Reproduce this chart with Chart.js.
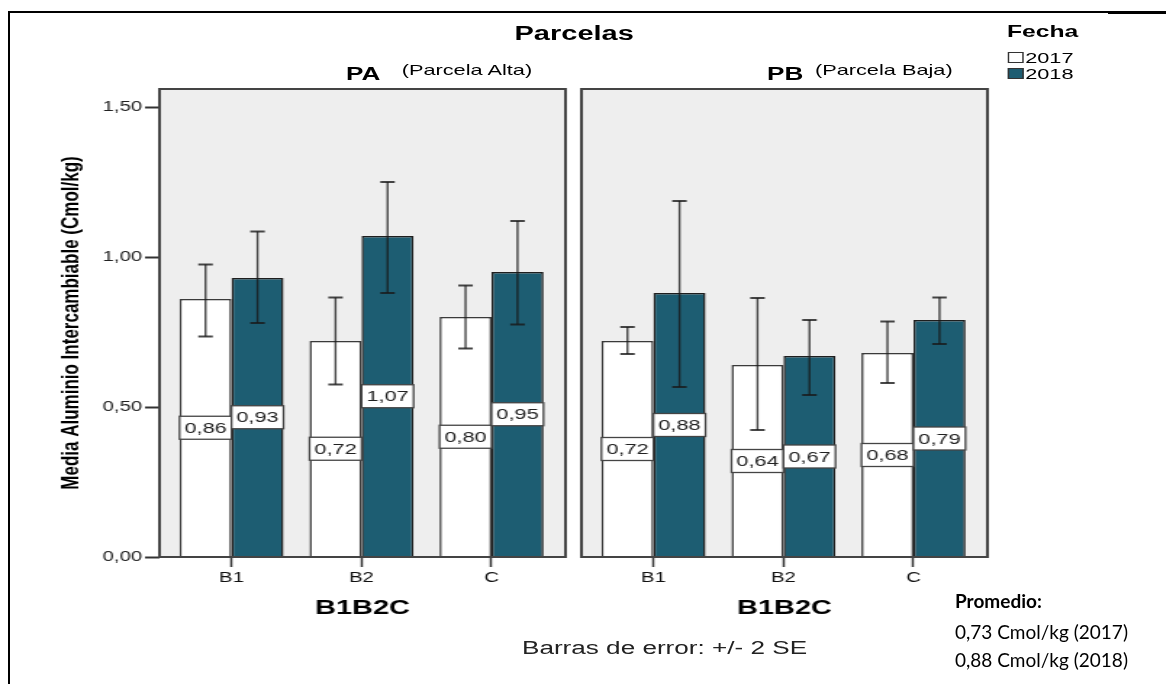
<!DOCTYPE html>
<html lang="es">
<head>
<meta charset="UTF-8">
<title>Media Aluminio Intercambiable</title>
<script src="https://cdn.jsdelivr.net/npm/chart.js"></script>
<style>
  body { margin:0; background:#fff; width:1166px; height:684px; overflow:hidden; position:relative; font-family:"Liberation Sans", Arial, sans-serif; }
  /* the SPSS output is stretched sideways in the original */
  #spss { position:absolute; left:0; top:0; width:800px; height:684px; transform:scaleX(1.45); transform-origin:0 0; }
  #spss canvas { position:absolute; top:0; }
  .t { position:absolute; white-space:nowrap; line-height:1; color:#000; }
  .box { position:absolute; width:11px; height:11px; border:1px solid #333; box-sizing:border-box; }
  .line { position:absolute; background:#000; }
  .note { position:absolute; left:955px; white-space:nowrap; line-height:1; font-family:Lato, "Open Sans", sans-serif; font-size:19px; color:#000; }
</style>
</head>
<body>
  <div class="line" style="left:8px; top:11px; width:2px; height:673px;"></div>
  <div class="line" style="left:8px; top:11px; width:1100px; height:2px;"></div>
  <div class="line" style="left:1108px; top:11px; width:58px; height:3px;"></div>

  <div id="spss">
    <canvas id="chartPA" width="396" height="684" style="left:0; width:396px; height:684px;"></canvas>
    <canvas id="chartPB" width="294" height="684" style="left:396px; width:294px; height:684px;"></canvas>

    <div class="t" style="left:296px; width:200px; text-align:center; top:23px; font-size:20px; font-weight:bold;">Parcelas</div>
    <div class="t" style="left:238.6px; top:65px; font-size:18px; font-weight:bold;">PA</div>
    <div class="t" style="left:277px; top:62px; font-size:15px;">(Parcela Alta)</div>
    <div class="t" style="left:529px; top:65px; font-size:18px; font-weight:bold;">PB</div>
    <div class="t" style="left:562px; top:62px; font-size:15px;">(Parcela Baja)</div>

    <div class="t" style="left:694.5px; top:22.5px; font-size:17px; font-weight:bold;">Fecha</div>
    <div class="box" style="left:695px; top:52px; background:#fff;"></div>
    <div class="t" style="left:707px; top:50px; font-size:15px;">2017</div>
    <div class="box" style="left:695px; top:67.5px; background:#1d5d72;"></div>
    <div class="t" style="left:707px; top:65.5px; font-size:15px;">2018</div>

    <div class="t" style="left:360px; top:639px; font-size:18px; color:#222;">Barras de error: +/- 2 SE</div>
  </div>

  <div class="note" style="top:591px; font-weight:bold;">Promedio:</div>
  <div class="note" style="top:622px;">0,73 Cmol/kg (2017)</div>
  <div class="note" style="top:650px;">0,88 Cmol/kg (2018)</div>

<script>
  const categories = ['B1', 'B2', 'C'];
  const yTicks = [0, 0.5, 1.0, 1.5];
  const yMax = 1.56;
  const xMin = -0.554;
  const xMax = 2.569;

  // PA (Parcela Alta)
  const paMean2017 = [0.86, 0.72, 0.80];
  const paMean2018 = [0.93, 1.07, 0.95];
  const paLow2017 = [0.735, 0.575, 0.695];
  const paHigh2017 = [0.975, 0.865, 0.905];
  const paLow2018 = [0.78, 0.88, 0.775];
  const paHigh2018 = [1.085, 1.25, 1.12];

  // PB (Parcela Baja)
  const pbMean2017 = [0.72, 0.64, 0.68];
  const pbMean2018 = [0.88, 0.67, 0.79];
  const pbLow2017 = [0.677, 0.423, 0.58];
  const pbHigh2017 = [0.767, 0.863, 0.785];
  const pbLow2018 = [0.567, 0.54, 0.71];
  const pbHigh2018 = [1.187, 0.79, 0.865];

  const fontFam = '"Liberation Sans", Arial, sans-serif';
  const teal = '#1d5d72';

  function comma(v) {
    return Number(v).toFixed(2).replace('.', ',');
  }

  // panel background, error bars, frame and value boxes
  const panelPlugin = {
    id: 'panel',
    beforeDraw(chart) {
      const a = chart.chartArea;
      const ctx = chart.ctx;
      ctx.save();
      ctx.fillStyle = '#eeeeee';
      ctx.fillRect(a.left, a.top, a.right - a.left, a.bottom - a.top);
      ctx.restore();
    },
    afterDatasetsDraw(chart) {
      const ctx = chart.ctx;
      const a = chart.chartArea;
      const y = chart.scales.y;
      ctx.save();

      chart.data.datasets.forEach((ds, i) => {
        const meta = chart.getDatasetMeta(i);
        meta.data.forEach((bar, j) => {
          const yHi = y.getPixelForValue(ds.errHigh[j]);
          const yLo = y.getPixelForValue(ds.errLow[j]);
          ctx.strokeStyle = 'rgba(25,25,25,0.8)';
          ctx.lineWidth = 1.4;
          ctx.beginPath();
          ctx.moveTo(bar.x, yHi);
          ctx.lineTo(bar.x, yLo);
          ctx.stroke();
          ctx.lineWidth = 2;
          ctx.beginPath();
          ctx.moveTo(bar.x - 5, yHi);
          ctx.lineTo(bar.x + 5, yHi);
          ctx.moveTo(bar.x - 5, yLo);
          ctx.lineTo(bar.x + 5, yLo);
          ctx.stroke();
        });
      });

      ctx.strokeStyle = '#444';
      ctx.lineWidth = 2;
      ctx.strokeRect(a.left, a.top, a.right - a.left, a.bottom - a.top);

      chart.data.datasets.forEach((ds, i) => {
        const meta = chart.getDatasetMeta(i);
        meta.data.forEach((bar, j) => {
          const w = bar.width;
          const cy = (bar.y + bar.base) / 2;
          ctx.fillStyle = '#fff';
          ctx.fillRect(bar.x - w / 2, cy - 11.5, w, 23);
          ctx.strokeStyle = '#444';
          ctx.lineWidth = 1.3;
          ctx.strokeRect(bar.x - w / 2, cy - 11.5, w, 23);
          ctx.fillStyle = '#222';
          ctx.font = '15px ' + fontFam;
          ctx.textAlign = 'center';
          ctx.textBaseline = 'middle';
          ctx.fillText(comma(ds.data[j].y), bar.x, cy + 1);
        });
      });
      ctx.restore();
    }
  };

  function panelChart(id, m17, m18, lo17, hi17, lo18, hi18, showY, padLeft, padRight) {
    const ctx = document.getElementById(id).getContext('2d');
    return new Chart(ctx, {
      type: 'bar',
      data: {
        datasets: [{
          label: '2017',
          data: m17.map((v, i) => ({ x: i, y: v })),
          errLow: lo17,
          errHigh: hi17,
          backgroundColor: '#ffffff',
          borderColor: '#3a3a3a',
          borderWidth: 1.5,
          categoryPercentage: 0.8,
          barPercentage: 1.0
        }, {
          label: '2018',
          data: m18.map((v, i) => ({ x: i, y: v })),
          errLow: lo18,
          errHigh: hi18,
          backgroundColor: teal,
          borderColor: '#1e1e1e',
          borderWidth: 1.5,
          categoryPercentage: 0.8,
          barPercentage: 1.0
        }]
      },
      options: {
        responsive: false,
        animation: false,
        events: [],
        layout: { padding: { left: padLeft, right: padRight, top: 89, bottom: 0 } },
        plugins: { legend: { display: false }, tooltip: { enabled: false } },
        scales: {
          x: {
            type: 'linear',
            min: xMin,
            max: xMax,
            offset: false,
            afterBuildTicks: s => { s.ticks = categories.map((c, i) => ({ value: i })); },
            afterFit: s => { s.height = 127; },
            ticks: {
              callback: v => categories[v],
              font: { family: fontFam, size: 14 },
              color: '#111',
              padding: 3,
              autoSkip: false,
              maxRotation: 0
            },
            grid: { offset: false, drawOnChartArea: false, tickLength: 10, tickWidth: 1.5, tickColor: '#333' },
            border: { display: false },
            title: {
              display: true,
              text: 'B1B2C',
              font: { family: fontFam, size: 20, weight: 'bold' },
              color: '#000',
              padding: { top: 0, bottom: 64 }
            }
          },
          y: {
            display: showY,
            min: 0,
            max: yMax,
            afterBuildTicks: s => { s.ticks = yTicks.map(v => ({ value: v })); },
            afterFit: s => { if (showY) s.width = 110; },
            ticks: {
              callback: v => comma(v),
              font: { family: fontFam, size: 14 },
              color: '#222',
              padding: 2
            },
            grid: { drawOnChartArea: false, tickLength: 10, tickWidth: 2, tickColor: '#333' },
            border: { display: false },
            title: {
              display: true,
              text: 'Media Aluminio Intercambiable (Cmol/kg)',
              font: { family: fontFam, size: 17, weight: 'bold' },
              color: '#000',
              padding: { top: 39, bottom: 0 }
            }
          }
        }
      },
      plugins: [panelPlugin]
    });
  }

  const chartPA = panelChart('chartPA', paMean2017, paMean2018, paLow2017, paHigh2017, paLow2018, paHigh2018, true, 0, 6);
  const chartPB = panelChart('chartPB', pbMean2017, pbMean2018, pbLow2017, pbHigh2017, pbLow2018, pbHigh2018, false, 5, 9);
</script>
</body>
</html>
